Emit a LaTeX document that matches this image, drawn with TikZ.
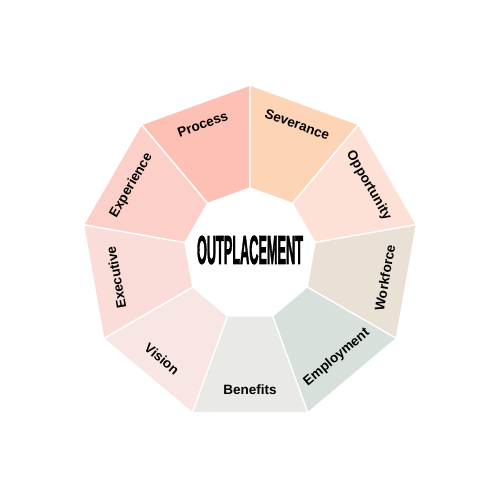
\documentclass[tikz,border=0pt]{standalone}
\usepackage{fontspec}
\setmainfont{Liberation Sans}
\newfontfamily\heavyfont{Liberation Sans Bold}[FakeBold=2.5]
\usepackage{graphicx}
\definecolor{cProcess}{HTML}{FCC0B5}
\definecolor{cSeverance}{HTML}{FDD4B6}
\definecolor{cOpportunity}{HTML}{FDE1D7}
\definecolor{cWorkforce}{HTML}{EAE1D6}
\definecolor{cEmployment}{HTML}{D8E0DB}
\definecolor{cBenefits}{HTML}{E9EAE5}
\definecolor{cVision}{HTML}{F7E6E3}
\definecolor{cExecutive}{HTML}{FADCD9}
\definecolor{cExperience}{HTML}{FCCFC8}
\tikzset{
  seg/.style={draw=white, line width=1.3pt, line join=miter},
  lbl/.style={font=\bfseries\fontsize{13.5}{14}\selectfont, text=black, inner sep=0pt, anchor=center},
}
\begin{document}
\begin{tikzpicture}[x=1pt,y=1pt]
\useasboundingbox[fill=white] (-250,-246) rectangle (250,254);
\def\Ro{169}
\def\Ri{66}
\foreach \a/\c in {90/cProcess,50/cSeverance,10/cOpportunity,-30/cWorkforce,-70/cEmployment,-110/cBenefits,-150/cVision,-190/cExecutive,-230/cExperience}{
  \pgfmathsetmacro{\b}{\a+40}
  \filldraw[seg, fill=\c] (\a:\Ro) -- (\b:\Ro) -- (\b:\Ri) -- (\a:\Ri) -- cycle;
}
\node[lbl, rotate=20] (process) at (110:138) {Process};
\node[lbl, rotate=-20] (severance) at (70:138) {Severance};
\node[lbl, rotate=-60] (opportunity) at (30:137) {Opportunity};
\node[lbl, rotate=80] (workforce) at (-10:137) {Workforce};
\node[lbl, rotate=40] (employment) at (-50:135) {Employment};
\node[lbl, rotate=0] (benefits) at (-90:136) {Benefits};
\node[lbl, rotate=-40] (vision) at (-130:137) {Vision};
\node[lbl, rotate=100] (executive) at (-170:136) {Executive};
\node[lbl, rotate=60] (experience) at (150:137) {Experience};
\node[inner sep=0pt] (center) at (0,4) {\resizebox{106pt}{28pt}{\heavyfont OUTPLACEMENT}};
\end{tikzpicture}
\end{document}
